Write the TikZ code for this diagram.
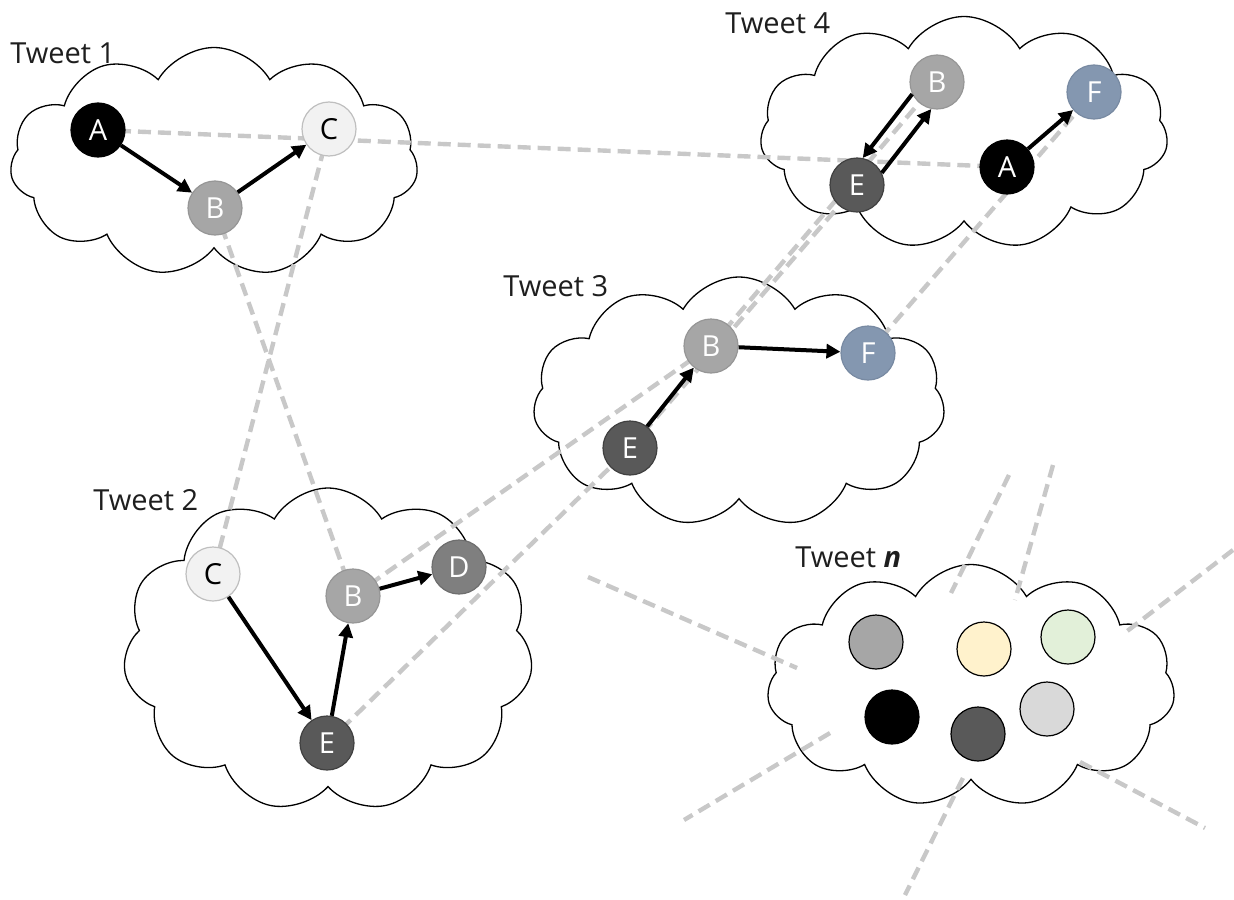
\documentclass[tikz,border=0pt]{standalone}
\usepackage{fontspec}
\setmainfont{Open Sans}
\usepackage{tikz}
\usetikzlibrary{shapes.symbols,arrows.meta}
\pgfdeclarelayer{background}
\pgfdeclarelayer{links}
\pgfsetlayers{background,links,main}

\begin{document}
\begin{tikzpicture}[x=0.5pt,y=0.5pt,yscale=-1,xscale=1,
  every node/.style={font=\fontsize{14.5}{17}\selectfont},
  tweetcloud/.style={cloud, cloud puffs=11, cloud puff arc=120, cloud ignores aspect, draw, line width=0.65pt, inner sep=0pt},
  tweetlabel/.style={anchor=base west, inner sep=0pt, text={rgb, 255:red, 30; green, 30; blue, 30 }},
  user/.style={circle, minimum size=27pt, inner sep=0pt, line width=0.6pt, text=white},
  userA/.style={user, fill=black, draw=black},
  userB/.style={user, fill={rgb, 255:red, 166; green, 166; blue, 166 }, draw={rgb, 255:red, 150; green, 150; blue, 150 }},
  userC/.style={user, fill={rgb, 255:red, 242; green, 242; blue, 242 }, draw={rgb, 255:red, 191; green, 191; blue, 191 }, text=black},
  userD/.style={user, fill={rgb, 255:red, 127; green, 127; blue, 127 }, draw={rgb, 255:red, 110; green, 110; blue, 110 }},
  userE/.style={user, fill={rgb, 255:red, 89; green, 89; blue, 89 }, draw={rgb, 255:red, 64; green, 64; blue, 64 }},
  userF/.style={user, fill={rgb, 255:red, 132; green, 151; blue, 176 }, draw={rgb, 255:red, 120; green, 138; blue, 162 }},
  anon/.style={circle, minimum size=27pt, inner sep=0pt, line width=0.6pt, draw=black},
  link/.style={draw={rgb, 255:red, 200; green, 200; blue, 200 }, line width=2.2pt, dash pattern=on 6.5pt off 3.5pt},
  reply/.style={line width=2pt, -{Triangle[length=7pt,width=7pt]}}
]
%set diagram size 1234 x 899
\useasboundingbox (0,0) rectangle (1234,899);

%Shape: Clouds
\begin{pgfonlayer}{background}
\node [tweetcloud, minimum width=204pt, minimum height=114.5pt] (cloud1) at (214,162) {};
\node [tweetcloud, minimum width=205pt, minimum height=162pt] (cloud2) at (328,650) {};
\node [tweetcloud, minimum width=206pt, minimum height=125pt] (cloud3) at (739,402) {};
\node [tweetcloud, minimum width=204pt, minimum height=116.5pt] (cloud4) at (964,133) {};
\node [tweetcloud, minimum width=204pt, minimum height=121.5pt] (cloudn) at (971,686) {};
\end{pgfonlayer}

% Text Node
\node [tweetlabel] (lbl1) at (10,64) {Tweet 1};
% Text Node
\node [tweetlabel] (lbl2) at (93,510) {Tweet 2};
% Text Node
\node [tweetlabel] (lbl3) at (503,296) {Tweet 3};
% Text Node
\node [tweetlabel] (lbl4) at (725,34) {Tweet 4};
% Text Node
\node [tweetlabel] (lbln) at (795,567) {Tweet \textbf{\textit{n}}};

%Tweet 1
\node [userA] (a1) at (98,130) {A};
\node [userB] (b1) at (215,208) {B};
\node [userC] (c1) at (329,129) {C};
%Tweet 2
\node [userC] (c2) at (213,574) {C};
\node [userB] (b2) at (353,596) {B};
\node [userD] (d2) at (459,567) {D};
\node [userE] (e2) at (327,743) {E};
%Tweet 3
\node [userB] (b3) at (711,346) {B};
\node [userF] (f3) at (868,353) {F};
\node [userE] (e3) at (630,448) {E};
%Tweet 4
\node [userB] (b4) at (937,82) {B};
\node [userF] (f4) at (1094,92) {F};
\node [userE] (e4) at (857,185) {E};
\node [userA] (a4) at (1007,167) {A};
%Tweet n
\node [anon, fill={rgb, 255:red, 166; green, 166; blue, 166 }] (n1) at (876,642) {};
\node [anon, fill={rgb, 255:red, 255; green, 242; blue, 204 }] (n2) at (984,649) {};
\node [anon, fill={rgb, 255:red, 226; green, 240; blue, 217 }] (n3) at (1068,637) {};
\node [anon, fill=black] (n4) at (892,717) {};
\node [anon, fill={rgb, 255:red, 89; green, 89; blue, 89 }] (n5) at (978,734) {};
\node [anon, fill={rgb, 255:red, 217; green, 217; blue, 217 }] (n6) at (1047,709) {};

%Straight Lines: same user in different tweets
\begin{pgfonlayer}{links}
\draw [link] (a1.center) -- (a4.center);
\draw [link] (b1.center) -- (b2.center);
\draw [link] (b2.center) -- (b3.center);
\draw [link] (b3.center) -- (b4.center);
\draw [link] (c1.center) -- (c2.center);
\draw [link] (e2.center) -- (e3.center);
\draw [link] (e3.center) -- (e4.center);
\draw [link] (f3.center) -- (f4.center);
%Straight Lines: around tweet n
\draw [link] (588,577) -- (797,668);
\draw [link] (1009,475) -- (951,593);
\draw [link] (1053,465) -- (1015,600);
\draw [link] (1233,550) -- (1122,635);
\draw [link] (830,733) -- (684,820);
\draw [link] (1080,762) -- (1205,828);
\draw [link] (963,778) -- (905,895);
\end{pgfonlayer}

%Arrows: replies and retweets
\draw [reply] (a1) -- (b1);
\draw [reply] (b1) -- (c1);
\draw [reply] (c2) -- (e2);
\draw [reply] (e2) -- (b2);
\draw [reply] (b2) -- (d2);
\draw [reply] (e3) -- (b3);
\draw [reply] (b3) -- (f3);
\draw [reply] (b4.206) -- (e4.78);
\draw [reply] (e4.26) -- (b4.258);
\draw [reply] (a4) -- (f4);

\end{tikzpicture}
\end{document}
